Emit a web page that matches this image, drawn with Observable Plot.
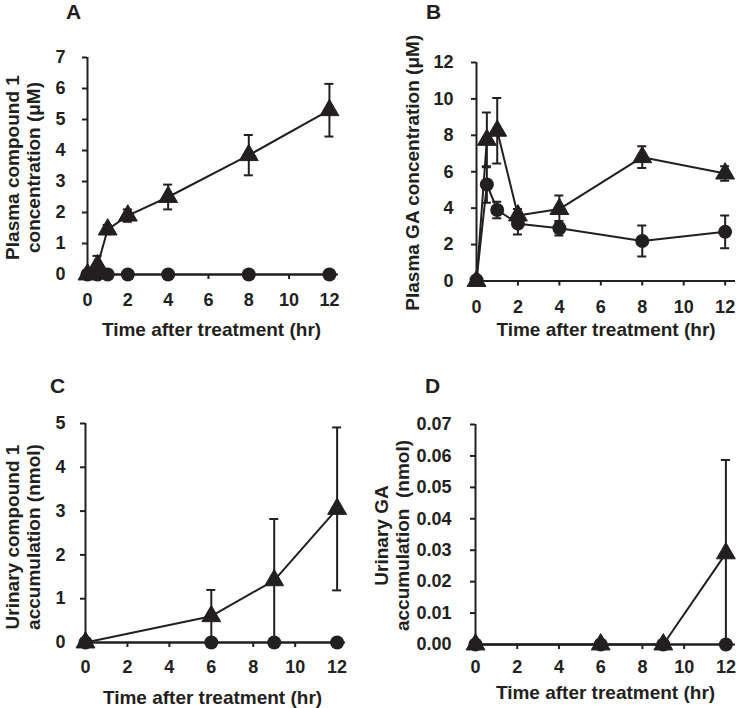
<!DOCTYPE html>
<html><head><meta charset="utf-8">
<script src="https://cdn.jsdelivr.net/npm/d3@7"></script>
<script src="https://cdn.jsdelivr.net/npm/@observablehq/plot@0.6"></script>
<style>
body{margin:0;background:#fff}
#fig{position:relative;width:736px;height:708px;font-family:"Liberation Sans",Arial,sans-serif}
.panel{position:absolute}
</style></head><body><div id="fig"></div>
<script>
// ---- data ----
const xTicks = [0, 2, 4, 6, 8, 10, 12];
const xTitle = "Time after treatment (hr)";

// Panel A: plasma compound 1 (µM)
const timesPlasma = [0, 0.5, 1, 2, 4, 8, 12];
const aTriMean = [0, 0.3, 1.45, 1.9, 2.5, 3.85, 5.3];
const aTriSD   = [0, 0.3, 0.15, 0.2, 0.4, 0.65, 0.85];
const aCirMean = [0, 0, 0, 0, 0, 0, 0];
const aCirSD   = [0, 0, 0, 0, 0, 0, 0];
const aYTicks  = [0, 1, 2, 3, 4, 5, 6, 7];

// Panel B: plasma GA (µM)
const bTriMean = [0, 7.75, 8.25, 3.6, 3.95, 6.8, 5.9];
const bTriSD   = [0, 1.5, 1.8, 0.35, 0.75, 0.6, 0.4];
const bCirMean = [0.05, 5.3, 3.9, 3.15, 2.9, 2.2, 2.7];
const bCirSD   = [0, 1.0, 0.45, 0.6, 0.4, 0.85, 0.9];
const bYTicks  = [0, 2, 4, 6, 8, 10, 12];

// Panel C: urinary compound 1 (nmol)
const timesUrine = [0, 6, 9, 12];
const cTriMean = [0, 0.6, 1.42, 3.05];
const cTriSD   = [0, 0.6, 1.4, 1.86];
const cCirMean = [0, 0, 0, 0];
const cCirSD   = [0, 0, 0, 0];
const cYTicks  = [0, 1, 2, 3, 4, 5];

// Panel D: urinary GA (nmol)
const dTriMean = [0, 0, 0, 0.029];
const dTriSD   = [0, 0, 0, 0.0297];
const dCirMean = [0, 0, 0, 0];
const dCirSD   = [0, 0, 0, 0];
const dYTicks  = [0, 0.01, 0.02, 0.03, 0.04, 0.05, 0.06, 0.07];

// ---- drawing ----
const INK = "#231f20";
const FONT = "'Liberation Sans', Arial, sans-serif";
const TICK = 5;
const TICK_FS = 18;

function rows(times, means, sds) {
  return times.map((t, i) => ({t, m: means[i], lo: means[i] - sds[i], hi: means[i] + sds[i]}));
}

function makePanel(c) {
  const tri = rows(c.times, c.triMean, c.triSD);
  const cir = rows(c.times, c.cirMean, c.cirSD);
  const bars = tri.concat(cir).filter(d => d.hi > d.lo);
  const caps = bars.flatMap(d => [{t: d.t, v: d.lo}, {t: d.t, v: d.hi}]);
  const xFmt = d3.format("d");
  return Plot.plot({
    width: 368, height: 354,
    marginLeft: c.ml, marginRight: c.mr, marginTop: c.mt, marginBottom: c.mb,
    style: {fontFamily: FONT, fontWeight: "bold", color: INK, background: "transparent", overflow: "visible"},
    x: {domain: [0, c.xMax]},
    y: {domain: [0, c.yMax]},
    marks: [
      Plot.axisX({ticks: xTicks, tickFormat: () => "", tickSize: TICK, stroke: INK, strokeWidth: 2, label: null}),
      Plot.axisY({ticks: c.yTicks, tickFormat: () => "", tickSize: TICK, stroke: INK, strokeWidth: 2, label: null}),
      Plot.text(xTicks, {x: d => d, text: d => xFmt(d), frameAnchor: "bottom", dy: TICK + c.xPad, lineAnchor: "top", textAnchor: "middle", fontSize: TICK_FS, fontWeight: "bold", fill: INK}),
      Plot.text(c.yTicks, {y: d => d, text: d => c.yFmt(d), frameAnchor: "left", dx: -(TICK + c.yPad), lineAnchor: "middle", textAnchor: "end", fontSize: TICK_FS, fontWeight: "bold", fill: INK}),
      Plot.ruleX([0], {stroke: INK, strokeWidth: 2}),
      Plot.ruleY([0], {stroke: INK, strokeWidth: 2}),
      Plot.ruleX(bars, {x: "t", y1: "lo", y2: "hi", stroke: INK, strokeWidth: 2, clip: true}),
      Plot.ruleY(caps, {x1: "t", x2: "t", y: "v", insetLeft: -4.5, insetRight: -4.5, stroke: INK, strokeWidth: 2, clip: true}),
      Plot.line(tri, {x: "t", y: "m", stroke: INK, strokeWidth: 2}),
      Plot.line(cir, {x: "t", y: "m", stroke: INK, strokeWidth: 2}),
      Plot.dot(tri, {x: "t", y: "m", symbol: "triangle", r: 7, fill: INK, stroke: INK, strokeWidth: 1}),
      Plot.dot(cir, {x: "t", y: "m", symbol: "circle", r: 7, fill: INK}),
      Plot.text([c.letter], {text: d => d, frameAnchor: "top-left", dx: c.lx, dy: c.ly, fontSize: 21, fontWeight: "bold", textAnchor: "middle", lineAnchor: "middle", fill: INK}),
      Plot.text([c.yTitle], {text: d => d, frameAnchor: "left", rotate: -90, dx: c.ytx, dy: c.yty, fontSize: 19, fontWeight: "bold", lineHeight: 1.1, textAnchor: "middle", lineAnchor: "middle", fill: INK}),
      Plot.text([xTitle], {text: d => d, frameAnchor: "bottom", dx: c.xtx, dy: c.xty, fontSize: 19, fontWeight: "bold", textAnchor: "middle", lineAnchor: "top", fill: INK})
    ]
  });
}

const intFmt = d3.format("d");
const panels = [
  {left: 0, top: 0, letter: "A", times: timesPlasma, triMean: aTriMean, triSD: aTriSD, cirMean: aCirMean, cirSD: aCirSD,
   yTicks: aYTicks, yFmt: intFmt, yMax: 7, xMax: 12.45, ml: 87, mr: 30, mt: 57, mb: 80, xPad: 14, yPad: 17,
   lx: -14, ly: -45, yTitle: "Plasma compound 1\nconcentration (μM)", ytx: -64.5, yty: 1.5, xtx: -1.5, xty: 48},
  {left: 368, top: 0, letter: "B", times: timesPlasma, triMean: bTriMean, triSD: bTriSD, cirMean: bCirMean, cirSD: bCirSD,
   yTicks: bYTicks, yFmt: intFmt, yMax: 12, xMax: 12.5, ml: 108, mr: 1, mt: 62, mb: 73.5, xPad: 14, yPad: 18,
   lx: -43, ly: -50, yTitle: "Plasma GA concentration (μM)", ytx: -64, yty: 1, xtx: 0, xty: 41},
  {left: 0, top: 354, letter: "C", times: timesUrine, triMean: cTriMean, triSD: cTriSD, cirMean: cCirMean, cirSD: cCirSD,
   yTicks: cYTicks, yFmt: intFmt, yMax: 5, xMax: 12.4, ml: 85, mr: 23, mt: 69, mb: 66, xPad: 13, yPad: 15,
   lx: -28, ly: -37, yTitle: "Urinary compound 1\naccumulation (nmol)", ytx: -62.5, yty: 4, xtx: -3, xty: 48},
  {left: 368, top: 354, letter: "D", times: timesUrine, triMean: dTriMean, triSD: dTriSD, cirMean: dCirMean, cirSD: dCirSD,
   yTicks: dYTicks, yFmt: d3.format(".2f"), yMax: 0.07, xMax: 12.46, ml: 107, mr: 1, mt: 70, mb: 64, xPad: 11, yPad: 19,
   lx: -43, ly: -38, yTitle: "Urinary GA\naccumulation \u00a0(nmol)", ytx: -84, yty: 1, xtx: 0, xty: 41}
];

const fig = document.getElementById("fig");
for (const p of panels) {
  const div = document.createElement("div");
  div.className = "panel";
  div.style.left = p.left + "px";
  div.style.top = p.top + "px";
  div.appendChild(makePanel(p));
  fig.appendChild(div);
}
</script>
</body></html>
